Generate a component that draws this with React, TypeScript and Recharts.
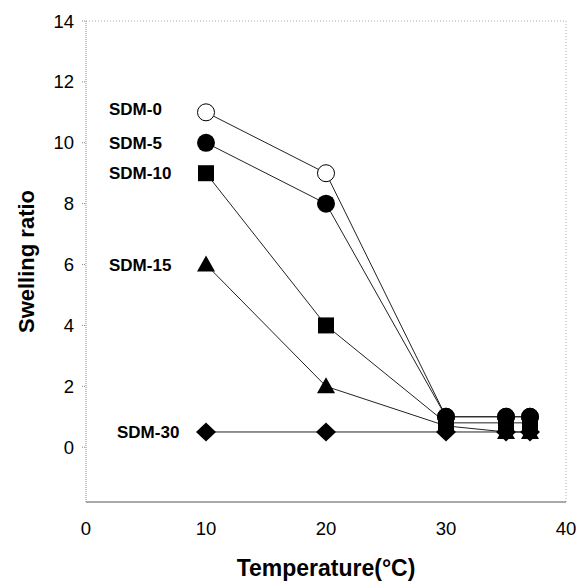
import { LineChart, Line, XAxis, YAxis, ReferenceLine } from 'recharts';

const temps = [10, 20, 30, 35, 37];
const sdm0 = [11, 9, 1, 1, 1];
const sdm5 = [10, 8, 1, 1, 1];
const sdm10 = [9, 4, 0.8, 0.8, 0.8];
const sdm15 = [6, 2, 0.7, 0.5, 0.5];
const sdm30 = [0.5, 0.5, 0.5, 0.5, 0.5];
const xTicks = [0, 10, 20, 30, 40];
const yTicks = [0, 2, 4, 6, 8, 10, 12, 14];

const data = temps.map((t, i) => ({ temp: t, sdm0: sdm0[i], sdm5: sdm5[i], sdm10: sdm10[i], sdm15: sdm15[i], sdm30: sdm30[i] }));

const font = '"Liberation Sans", Arial, sans-serif';

type Shape = 'openCircle' | 'circle' | 'square' | 'triangle' | 'diamond';

function makeDot(shape: Shape, label: string, labelX: number, labelDy = 0) {
  return (props: any) => {
    const { cx, cy, index } = props;
    if (cx == null || cy == null) return <g key={index} />;
    let mark;
    if (shape === 'openCircle') mark = <circle cx={cx} cy={cy} r={8.5} fill="#fff" stroke="#000" strokeWidth={1} />;
    else if (shape === 'circle') mark = <circle cx={cx} cy={cy} r={9} fill="#000" />;
    else if (shape === 'square') mark = <rect x={cx - 8} y={cy - 8} width={16} height={16} fill="#000" />;
    else if (shape === 'triangle') mark = <polygon points={`${cx},${cy - 9} ${cx - 9},${cy + 7} ${cx + 9},${cy + 7}`} fill="#000" />;
    else mark = <polygon points={`${cx},${cy - 9.5} ${cx + 10},${cy} ${cx},${cy + 9.5} ${cx - 10},${cy}`} fill="#000" />;
    return (
      <g key={index}>
        {mark}
        {index === 0 && (
          <text x={labelX} y={cy + labelDy} dy={6} fontFamily={font} fontWeight="bold" fontSize={17} fill="#000">{label}</text>
        )}
      </g>
    );
  };
}

export default function App() {
  return (
    <div style={{ position: 'absolute', left: 0, top: 0, background: '#fff' }}>
      <LineChart width={578} height={586} data={data} margin={{ top: 21, right: 12, left: 26, bottom: 0 }}>
        <XAxis
          type="number"
          dataKey="temp"
          domain={[0, 40]}
          ticks={xTicks}
          height={84}
          stroke="#555"
          tickLine={false}
          tick={{ fill: '#000', fontSize: 18.5, fontFamily: font, dy: 12 }}
          label={{ value: 'Temperature(°C)', position: 'insideBottom', offset: 10, fill: '#000', fontSize: 23, fontWeight: 'bold', fontFamily: font }}
        />
        <YAxis
          type="number"
          domain={[-1.8, 14]}
          ticks={yTicks}
          width={60}
          stroke="#888"
          strokeDasharray="1 1"
          tickSize={4}
          tick={{ fill: '#000', fontSize: 18.5, fontFamily: font, dx: -6 }}
          label={{ value: 'Swelling ratio', angle: -90, position: 'insideLeft', offset: 0, fill: '#000', fontSize: 22, fontWeight: 'bold', fontFamily: font, style: { textAnchor: 'middle' } }}
        />
        <ReferenceLine y={14} stroke="#aaa" strokeDasharray="1 2" />
        <ReferenceLine x={40} stroke="#aaa" strokeDasharray="1 2" />
        <Line dataKey="sdm30" stroke="#222" strokeWidth={1} isAnimationActive={false} dot={makeDot('diamond', 'SDM-30', 117)} />
        <Line dataKey="sdm15" stroke="#222" strokeWidth={1} isAnimationActive={false} dot={makeDot('triangle', 'SDM-15', 109)} />
        <Line dataKey="sdm10" stroke="#222" strokeWidth={1} isAnimationActive={false} dot={makeDot('square', 'SDM-10', 109)} />
        <Line dataKey="sdm0" stroke="#222" strokeWidth={1} isAnimationActive={false} dot={makeDot('openCircle', 'SDM-0', 109, -3)} />
        <Line dataKey="sdm5" stroke="#222" strokeWidth={1} isAnimationActive={false} dot={makeDot('circle', 'SDM-5', 109)} />
      </LineChart>
    </div>
  );
}
